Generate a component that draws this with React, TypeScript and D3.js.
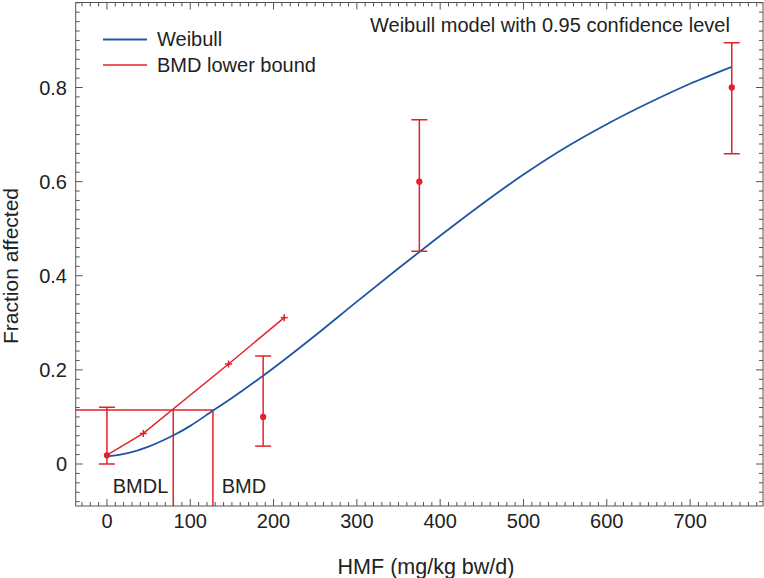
import React from "react";
import * as d3 from "d3";

const curveX = [0, 25, 50, 80, 100, 127, 150, 200, 250, 300, 350, 400, 450, 500, 550, 600, 650, 700, 750];
const curveY = [0.016, 0.023, 0.037, 0.061, 0.081, 0.113, 0.14, 0.204, 0.273, 0.345, 0.416, 0.485, 0.552, 0.615, 0.672, 0.722, 0.767, 0.808, 0.844];

const doseX = [0, 187.5, 375, 750];
const obsY = [0.0185, 0.1, 0.6, 0.8];
const ciLow = [0, 0.038, 0.452, 0.659];
const ciHigh = [0.1205, 0.2295, 0.7314, 0.895];

const bmdLineX = [0, 43.6, 146, 212.8];
const bmdLineY = [0.019, 0.065, 0.2125, 0.311];

const bmdl = 79.6;
const bmd = 127.2;
const bmr = 0.1147;

const xTicks = [0, 100, 200, 300, 400, 500, 600, 700];
const yTicks = [0, 0.2, 0.4, 0.6, 0.8];
const yTickLabels = ["0", "0.2", "0.4", "0.6", "0.8"];

const title = "Weibull model with 0.95 confidence level";
const legendLabels = ["Weibull", "BMD lower bound"];
const xTitle = "HMF (mg/kg bw/d)";
const yTitle = "Fraction affected";

const W = 764;
const H = 578;
const left = 75.7;
const right = 763;
const top = 2.5;
const bottom = 506;

const RED = "#e3222b";
const BLUE = "#1f56a3";
const FRAME = "#555";
const FONT = "'Liberation Sans', Arial, sans-serif";

export default function App() {
  const x = d3.scaleLinear().domain([-37.5, 787.5]).range([left, right]);
  const y = d3.scaleLinear().domain([0, 0.8]).range([464, 87.5]);

  const curveData = curveX.map((v, i) => [v, curveY[i]] as [number, number]);
  const curvePath = d3
    .line<[number, number]>()
    .x((d) => x(d[0]))
    .y((d) => y(d[1]))
    .curve(d3.curveCatmullRom)(curveData) as string;

  const bmdData = bmdLineX.map((v, i) => [v, bmdLineY[i]] as [number, number]);
  const bmdPath = d3
    .line<[number, number]>()
    .x((d) => x(d[0]))
    .y((d) => y(d[1]))(bmdData) as string;

  const xMinor = d3.range(-30, 790, 10).filter((v) => v % 100 !== 0);
  const yMinor = d3.range(-8, 99, 2).map((v) => v / 100).filter((v) => Math.round(v * 100) % 20 !== 0);

  const majLen = 7;
  const minLen = 4;

  return (
    <svg
      width={W}
      height={H}
      style={{ position: "absolute", left: 0, top: 0, background: "#fff" }}
      fontFamily={FONT}
    >
      <rect x={0} y={0} width={W} height={H} fill="#fff" />
      <defs>
        <clipPath id="plotclip">
          <rect x={left} y={top} width={right - left} height={bottom - top} />
        </clipPath>
      </defs>

      {/* ticks bottom/top */}
      <g stroke={FRAME} strokeWidth={1}>
        {xMinor.map((v) => (
          <g key={"xm" + v}>
            <line x1={x(v)} x2={x(v)} y1={bottom} y2={bottom - minLen} />
            <line x1={x(v)} x2={x(v)} y1={top} y2={top + minLen} />
          </g>
        ))}
        {xTicks.map((v) => (
          <g key={"xM" + v}>
            <line x1={x(v)} x2={x(v)} y1={bottom} y2={bottom - majLen} />
            <line x1={x(v)} x2={x(v)} y1={top} y2={top + majLen} />
          </g>
        ))}
        {yMinor.map((v) => (
          <g key={"ym" + v}>
            <line x1={left} x2={left + minLen} y1={y(v)} y2={y(v)} />
            <line x1={right} x2={right - minLen} y1={y(v)} y2={y(v)} />
          </g>
        ))}
        {yTicks.map((v) => (
          <g key={"yM" + v}>
            <line x1={left} x2={left + majLen} y1={y(v)} y2={y(v)} />
            <line x1={right} x2={right - majLen} y1={y(v)} y2={y(v)} />
          </g>
        ))}
      </g>

      {/* tick labels */}
      <g fontSize={20} fill="#222">
        {xTicks.map((v) => (
          <text key={"xl" + v} x={x(v)} y={528} textAnchor="middle">
            {String(v)}
          </text>
        ))}
        {yTicks.map((v, i) => (
          <text key={"yl" + v} x={67} y={y(v) + 7} textAnchor="end">
            {yTickLabels[i]}
          </text>
        ))}
      </g>

      {/* axis titles */}
      <text x={426} y={574} textAnchor="middle" fontSize={21.5} fill="#222">
        {xTitle}
      </text>
      <text
        transform={`translate(17.5,266) rotate(-90)`}
        textAnchor="middle"
        fontSize={21}
        fill="#222"
      >
        {yTitle}
      </text>

      <g clipPath="url(#plotclip)">
        {/* BMD reference lines */}
        <g stroke={RED} strokeWidth={1.5} fill="none">
          <line x1={left} x2={x(bmd)} y1={y(bmr)} y2={y(bmr)} />
          <line x1={x(bmdl)} x2={x(bmdl)} y1={y(bmr)} y2={bottom} />
          <line x1={x(bmd)} x2={x(bmd)} y1={y(bmr)} y2={bottom} />
        </g>

        {/* Weibull curve */}
        <path d={curvePath} fill="none" stroke={BLUE} strokeWidth={1.8} />

        {/* BMD lower bound line */}
        <path d={bmdPath} fill="none" stroke={RED} strokeWidth={1.5} />
        <g stroke={RED} strokeWidth={1.5}>
          {bmdData.slice(1).map((d, i) => (
            <g key={"pm" + i}>
              <line x1={x(d[0]) - 3.5} x2={x(d[0]) + 3.5} y1={y(d[1])} y2={y(d[1])} />
              <line x1={x(d[0])} x2={x(d[0])} y1={y(d[1]) - 3.5} y2={y(d[1]) + 3.5} />
            </g>
          ))}
        </g>

        {/* error bars */}
        <g stroke={RED} strokeWidth={1.5} fill="none">
          {doseX.map((v, i) => (
            <g key={"eb" + i}>
              <line x1={x(v)} x2={x(v)} y1={y(ciLow[i])} y2={y(ciHigh[i])} />
              <line x1={x(v) - 8} x2={x(v) + 8} y1={y(ciLow[i])} y2={y(ciLow[i])} />
              <line x1={x(v) - 8} x2={x(v) + 8} y1={y(ciHigh[i])} y2={y(ciHigh[i])} />
              <circle cx={x(v)} cy={y(obsY[i])} r={2.4} fill={RED} />
            </g>
          ))}
        </g>
      </g>

      {/* BMD labels */}
      <g fontSize={20} fill="#222">
        <text x={112.7} y={492.5}>BMDL</text>
        <text x={221.7} y={492.5}>BMD</text>
      </g>

      {/* frame */}
      <rect
        x={left}
        y={top}
        width={right - left}
        height={bottom - top}
        fill="none"
        stroke={FRAME}
        strokeWidth={1}
      />

      {/* title */}
      <text x={370} y={31.5} fontSize={20} fill="#222">
        {title}
      </text>

      {/* legend */}
      <line x1={103} x2={147} y1={39.5} y2={39.5} stroke={BLUE} strokeWidth={1.8} />
      <text x={157} y={46} fontSize={20} fill="#222">
        {legendLabels[0]}
      </text>
      <line x1={103} x2={147} y1={65} y2={65} stroke={RED} strokeWidth={1.5} />
      <text x={157} y={71.5} fontSize={20} fill="#222">
        {legendLabels[1]}
      </text>
    </svg>
  );
}
